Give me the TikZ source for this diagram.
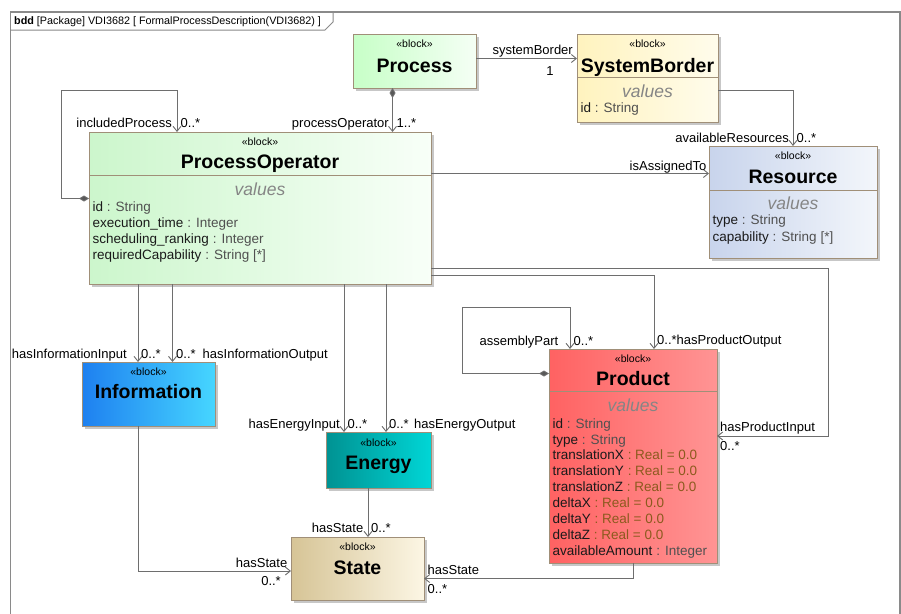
\documentclass[tikz,border=0pt]{standalone}
\usepackage{fontspec}
\setmainfont{Liberation Sans}
\usetikzlibrary{arrows.meta,shadows}
\definecolor{boxline}{HTML}{A08F78}
\definecolor{linegrey}{HTML}{6E6E6E}
\definecolor{framegrey}{HTML}{8A8A8A}
\definecolor{typegrey}{HTML}{505050}
\definecolor{defbrown}{HTML}{8C5A1E}
\definecolor{valgrey}{HTML}{858585}
\definecolor{attrname}{HTML}{1A1A1A}
\newcommand\tyg[1]{\textcolor{typegrey}{#1}}
\newcommand\dfv[1]{\textcolor{defbrown}{#1}}
\begin{document}
\begin{tikzpicture}[x=1pt,y=-1pt,
  blockbox/.style={draw=boxline, line width=1pt, inner sep=0pt, outer sep=0pt, anchor=north west,
    drop shadow={shadow xshift=3pt, shadow yshift=-3pt, fill=black, opacity=0.22}},
  stereo/.style={inner sep=0pt, text height=7.5pt, text depth=0pt, font=\fontsize{10.5}{12}\selectfont},
  btitle/.style={inner sep=0pt, text height=14pt, text depth=0pt, font=\fontsize{19.5}{22}\selectfont\bfseries},
  vals/.style={inner sep=0pt, text height=12.6pt, text depth=0pt, font=\fontsize{17.5}{20}\selectfont\itshape, text=valgrey},
  attr/.style={anchor=west, inner sep=0pt, text height=9.7pt, text depth=0pt, font=\fontsize{13.5}{16}\selectfont, text=attrname},
  lbl/.style={inner sep=0pt, text height=9.4pt, text depth=0pt, font=\fontsize{13}{15}\selectfont},
  divider/.style={draw=boxline, line width=1pt},
  assoc/.style={draw=linegrey, line width=0.9pt, -{Straight Barb[length=5pt,width=8pt]}},
  compo/.style={draw=linegrey, line width=0.9pt, {Diamond[length=10pt,width=6pt,fill=linegrey!80!black]}-{Straight Barb[length=5pt,width=8pt]}}
]
\clip (0,0) rectangle (901,613);
\fill[white] (0,0) rectangle (901,613);
% frame
\draw[framegrey, line width=1.2pt] (10.5,620) -- (10.5,12) -- (900,12) -- (900,620);
\draw[framegrey, line width=1pt] (10.5,30) -- (325,30) -- (333,22) -- (333,12);
\node[anchor=west, inner sep=0pt, font=\fontsize{10.8}{12}\selectfont] (hdr) at (14,21.5) {\textbf{bdd} [Package] VDI3682 [ FormalProcessDescription(VDI3682) ]};

% boxes
\node[blockbox, left color=green!22, right color=green!4, minimum width=123pt, minimum height=54pt] (proc) at (353,34) {};
\node[blockbox, left color={rgb,255:red,255;green,243;blue,190}, right color={rgb,255:red,255;green,252;blue,236}, minimum width=141pt, minimum height=88pt] (sysb) at (577,34) {};
\node[blockbox, left color={rgb,255:red,204;green,246;blue,204}, right color={rgb,255:red,248;green,255;blue,248}, minimum width=342pt, minimum height=152pt] (po) at (89,132) {};
\node[blockbox, left color={rgb,255:red,200;green,212;blue,236}, right color={rgb,255:red,243;green,246;blue,251}, minimum width=168pt, minimum height=112pt] (res) at (709,146) {};
\node[blockbox, left color={rgb,255:red,30;green,128;blue,240}, right color={rgb,255:red,70;green,214;blue,255}, minimum width=133pt, minimum height=64pt] (info) at (82,362) {};
\node[blockbox, left color={rgb,255:red,0;green,146;blue,146}, right color={rgb,255:red,0;green,214;blue,214}, minimum width=105pt, minimum height=56pt] (ener) at (326,432) {};
\node[blockbox, left color={rgb,255:red,214;green,196;blue,150}, right color={rgb,255:red,252;green,246;blue,228}, minimum width=133pt, minimum height=63pt] (state) at (291,537) {};
\node[blockbox, left color={rgb,255:red,255;green,98;blue,98}, right color={rgb,255:red,255;green,148;blue,148}, minimum width=168pt, minimum height=214pt] (prod) at (549,349) {};

% dividers
\draw[divider] (sysb.west |- 0,77) -- (sysb.east |- 0,77);
\draw[divider] (po.west |- 0,175) -- (po.east |- 0,175);
\draw[divider] (res.west |- 0,190) -- (res.east |- 0,190);
\draw[divider] (prod.west |- 0,391) -- (prod.east |- 0,391);

% Process
\node[stereo] (proc-s) at (414.5,43.5) {«block»};
\node[btitle] (proc-t) at (414.5,65) {Process};
% SystemBorder
\node[stereo] (sysb-s) at (647.5,43.5) {«block»};
\node[btitle] (sysb-t) at (647.5,65.5) {SystemBorder};
\node[vals] (sysb-v) at (647.5,91.5) {values};
\node[attr] (sysb-a1) at (580.5,108) {id \tyg{: String}};
% ProcessOperator
\node[stereo] (po-s) at (260,141.5) {«block»};
\node[btitle] (po-t) at (260,161.5) {ProcessOperator};
\node[vals] (po-v) at (260,189) {values};
\node[attr] (po-a1) at (92.5,206.5) {id \tyg{: String}};
\node[attr] (po-a2) at (92.5,222.5) {execution\_time \tyg{: Integer}};
\node[attr] (po-a3) at (92.5,238.5) {scheduling\_ranking \tyg{: Integer}};
\node[attr] (po-a4) at (92.5,254.5) {requiredCapability \tyg{: String [*]}};
% Resource
\node[stereo] (res-s) at (793,156) {«block»};
\node[btitle] (res-t) at (793,176.5) {Resource};
\node[vals] (res-v) at (793,203.5) {values};
\node[attr] (res-a1) at (712.5,220) {type \tyg{: String}};
\node[attr] (res-a2) at (712.5,236.5) {capability \tyg{: String [*]}};
% Information
\node[stereo] (info-s) at (148.5,371.5) {«block»};
\node[btitle] (info-t) at (148.5,391.5) {Information};
% Energy
\node[stereo] (ener-s) at (378.5,442.5) {«block»};
\node[btitle] (ener-t) at (378.5,462.5) {Energy};
% State
\node[stereo] (state-s) at (357.5,547) {«block»};
\node[btitle] (state-t) at (357.5,567) {State};
% Product
\node[stereo] (prod-s) at (633,359) {«block»};
\node[btitle] (prod-t) at (633,378.5) {Product};
\node[vals] (prod-v) at (633,405) {values};
\node[attr] (prod-a1) at (552.5,423.5) {id \tyg{: String}};
\node[attr] (prod-a2) at (552.5,439.5) {type \tyg{: String}};
\node[attr] (prod-a3) at (552.5,455) {translationX \dfv{: Real = 0.0}};
\node[attr] (prod-a4) at (552.5,471) {translationY \dfv{: Real = 0.0}};
\node[attr] (prod-a5) at (552.5,487) {translationZ \dfv{: Real = 0.0}};
\node[attr] (prod-a6) at (552.5,502.5) {deltaX \dfv{: Real = 0.0}};
\node[attr] (prod-a7) at (552.5,518.5) {deltaY \dfv{: Real = 0.0}};
\node[attr] (prod-a8) at (552.5,534.5) {deltaZ \dfv{: Real = 0.0}};
\node[attr] (prod-a9) at (552.5,550.5) {availableAmount \tyg{: Integer}};

% connectors
\draw[assoc] (proc.east |- 0,58.5) -- (sysb.west |- 0,58.5);
\draw[compo] (proc.south -| 392.5,0) -- (po.north -| 392.5,0);
\draw[compo] (po.west |- 0,198.5) -| (61,90) -| (po.north -| 177,0);
\draw[assoc] (sysb.east |- 0,90) -| (res.north -| 793,0);
\draw[assoc] (po.east |- 0,173.5) -- (res.west |- 0,173.5);
\draw[assoc] (po.east |- 0,275) -| (prod.north -| 654,0);
\draw[assoc] (po.east |- 0,268) -| (828.5,436) -- (prod.east |- 0,436);
\draw[compo] (prod.west |- 0,373.5) -| (462.5,307) -| (prod.north -| 570,0);
\draw[assoc] (po.south -| 138,0) -- (info.north -| 138,0);
\draw[assoc] (po.south -| 172.5,0) -- (info.north -| 172.5,0);
\draw[assoc] (po.south -| 344,0) -- (ener.north -| 344,0);
\draw[assoc] (po.south -| 386,0) -- (ener.north -| 386,0);
\draw[assoc] (ener.south -| 368,0) -- (state.north -| 368,0);
\draw[assoc] (info.south -| 138,0) |- (state.west |- 0,571);
\draw[assoc] (prod.south -| 633,0) |- (state.east |- 0,578.5);

% connector labels
\node[lbl, anchor=east] (l-sb) at (573,50) {systemBorder};
\node[lbl] (l-sb1) at (550,70.5) {1};
\node[lbl, anchor=east] (l-po) at (389,123) {processOperator};
\node[lbl, anchor=west] (l-po1) at (396.5,123) {1..*};
\node[lbl, anchor=east] (l-ip) at (172,123) {includedProcess};
\node[lbl, anchor=west] (l-ip1) at (180.5,123) {0..*};
\node[lbl, anchor=east] (l-ar) at (789,137.5) {availableResources};
\node[lbl, anchor=west] (l-ar1) at (796.5,137.5) {0..*};
\node[lbl, anchor=east] (l-ia) at (706.5,166) {isAssignedTo};
\node[lbl, anchor=east] (l-hii) at (127,354) {hasInformationInput};
\node[lbl, anchor=west] (l-hii1) at (141,354) {0..*};
\node[lbl, anchor=west] (l-hio1) at (176,354) {0..*};
\node[lbl, anchor=west] (l-hio) at (202.5,354) {hasInformationOutput};
\node[lbl, anchor=east] (l-hei) at (340,423.5) {hasEnergyInput};
\node[lbl, anchor=west] (l-hei1) at (347.5,423.5) {0..*};
\node[lbl, anchor=west] (l-heo1) at (389,423.5) {0..*};
\node[lbl, anchor=west] (l-heo) at (414,423.5) {hasEnergyOutput};
\node[lbl, anchor=east] (l-ap) at (558.5,341) {assemblyPart};
\node[lbl, anchor=west] (l-ap1) at (573.5,341) {0..*};
\node[lbl, anchor=west] (l-hpo) at (657,340) {0..*hasProductOutput};
\node[lbl, anchor=west] (l-hpi) at (720,427) {hasProductInput};
\node[lbl, anchor=west] (l-hpi1) at (720,445.5) {0..*};
\node[lbl, anchor=east] (l-es) at (363.5,527.5) {hasState};
\node[lbl, anchor=west] (l-es1) at (371,527.5) {0..*};
\node[lbl, anchor=east] (l-is) at (287.5,562.5) {hasState};
\node[lbl, anchor=east] (l-is1) at (281,581) {0..*};
\node[lbl, anchor=west] (l-ps) at (427.5,570) {hasState};
\node[lbl, anchor=west] (l-ps1) at (427.5,589) {0..*};
\end{tikzpicture}
\end{document}
